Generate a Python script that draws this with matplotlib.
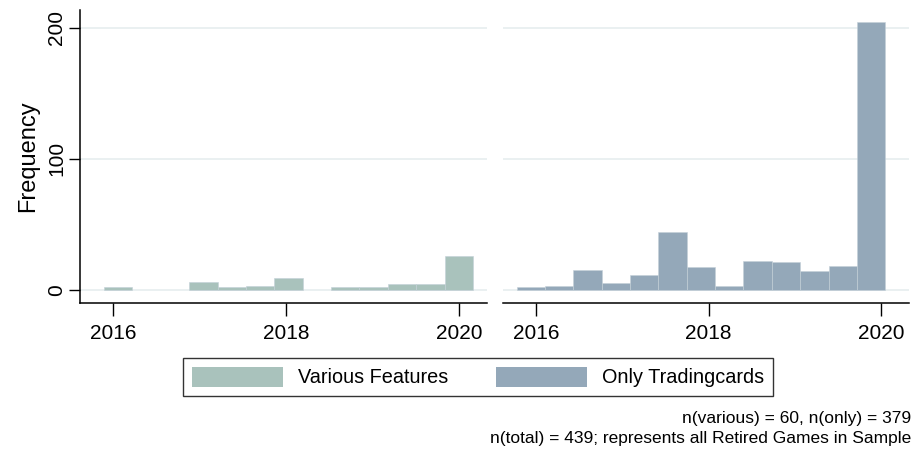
import numpy as np
import matplotlib.pyplot as plt
from matplotlib.patches import Patch

plt.rcParams['font.family'] = ['Liberation Sans', 'DejaVu Sans']

# histogram counts per bin (13 bins each)
various_counts = [2, 0, 0, 6, 2, 3, 9, 0, 2, 2, 4, 4, 26]
only_counts = [2, 3, 15, 5, 11, 44, 17, 3, 22, 21, 14, 18, 204]
various_start, various_width = 2015.896, 0.328
only_start, only_width = 2015.776, 0.3285

labels = ['Various Features', 'Only Tradingcards']
colors = ['#a9c2bc', '#94a8b9']
notes = ['n(various) = 60, n(only) = 379',
         'n(total) = 439; represents all Retired Games in Sample']
xticks = [2016, 2018, 2020]
yticks = [0, 100, 200]

fig = plt.figure(figsize=(9.14, 4.5), dpi=100)
ax1 = fig.add_axes([80/914, 1-303/450, 407/914, 293/450])
ax2 = fig.add_axes([503/914, 1-303/450, 406/914, 293/450])

for ax, counts, start, width, col in [(ax1, various_counts, various_start, various_width, colors[0]),
                                      (ax2, only_counts, only_start, only_width, colors[1])]:
    edges = start + width*np.arange(len(counts))
    ecols = ['#c4d0d8' if c > 0 else 'none' for c in counts]
    ax.bar(edges, counts, width=width, align='edge', color=col,
           edgecolor=ecols, linewidth=0.4, zorder=2)
    for y in yticks:
        ax.axhline(y, color='#e6eeef', lw=1.2, zorder=1)
    ax.set_xlim(2015.618, 2020.322)
    ax.set_ylim(-10.2, 213.5)
    ax.set_xticks(xticks)
    ax.set_xticklabels([str(t) for t in xticks], fontsize=15)
    ax.tick_params(axis='x', length=9, width=1, pad=6)
    for s in ['top', 'right']:
        ax.spines[s].set_visible(False)
    ax.spines['bottom'].set_linewidth(1.1)

ax1.set_yticks(yticks)
ax1.set_yticklabels([str(t) for t in yticks], fontsize=15, rotation=90, va='center')
ax1.tick_params(axis='y', length=8, width=1, pad=2)
ax1.spines['left'].set_linewidth(1.1)
ax1.set_ylabel('Frequency', fontsize=17, labelpad=6)

ax2.spines['left'].set_visible(False)
ax2.set_yticks([])

handles = [Patch(facecolor=c, edgecolor='none') for c in colors]
leg = fig.legend(handles, labels, ncol=2, loc='center', bbox_to_anchor=(478/914, 1-377/450),
                 fontsize=14.3, frameon=True, fancybox=False, edgecolor='black',
                 handlelength=4.6, handleheight=1.2, handletextpad=0.75, columnspacing=2.4,
                 borderpad=0.45)
leg.get_frame().set_linewidth(1.0)

fig.text(911/914, 1-418/450, notes[0], ha='right', va='center', fontsize=12.5)
fig.text(911/914, 1-438/450, notes[1], ha='right', va='center', fontsize=12.5)

fig.savefig('out.png', dpi=100)
